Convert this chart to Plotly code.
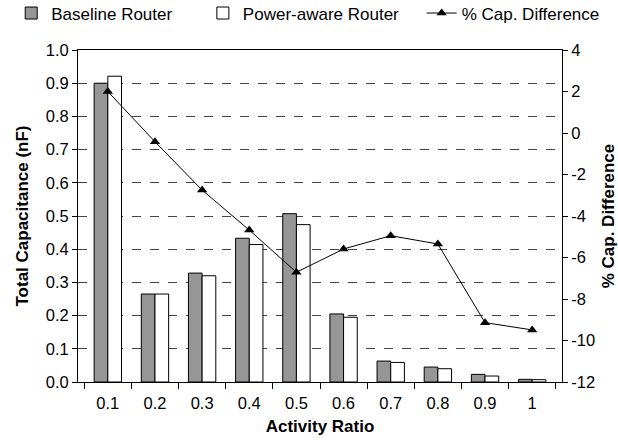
import plotly.graph_objects as go

categories = ["0.1", "0.2", "0.3", "0.4", "0.5", "0.6", "0.7", "0.8", "0.9", "1"]
baseline = [0.900, 0.265, 0.328, 0.433, 0.507, 0.205, 0.063, 0.045, 0.023, 0.008]
power_aware = [0.921, 0.265, 0.320, 0.414, 0.474, 0.195, 0.059, 0.040, 0.018, 0.007]
pct_diff = [2.0, -0.42, -2.75, -4.68, -6.71, -5.59, -4.95, -5.35, -9.14, -9.49]

left_ticks = [0.0, 0.1, 0.2, 0.3, 0.4, 0.5, 0.6, 0.7, 0.8, 0.9, 1.0]
left_labels = ["0.0", "0.1", "0.2", "0.3", "0.4", "0.5", "0.6", "0.7", "0.8", "0.9", "1.0"]
right_ticks = [-12, -10, -8, -6, -4, -2, 0, 2, 4]
right_labels = ["-12", "-10", "-8", "-6", "-4", "-2", "0", "2", "4"]

FONT = "Arial, Liberation Sans, sans-serif"

fig = go.Figure()
fig.add_trace(go.Bar(
    x=categories, y=baseline, name="Baseline Router", legend="legend",
    marker=dict(color="#969696", line=dict(color="black", width=1)),
))
fig.add_trace(go.Bar(
    x=categories, y=power_aware, name="Power-aware Router", legend="legend2",
    marker=dict(color="white", line=dict(color="black", width=1)),
))
fig.add_trace(go.Scatter(
    x=categories, y=pct_diff, name="% Cap. Difference", yaxis="y2", legend="legend3",
    mode="lines+markers",
    line=dict(color="black", width=1),
    marker=dict(symbol="triangle-up", size=9, color="black"),
))

leg_common = dict(
    orientation="h", xanchor="left", yanchor="middle", y=1.11,
    font=dict(size=17), itemwidth=30, bgcolor="rgba(0,0,0,0)",
)

fig.update_layout(
    width=618, height=440,
    margin=dict(l=78, r=56, t=50, b=58, autoexpand=False),
    paper_bgcolor="white", plot_bgcolor="white",
    font=dict(family=FONT, size=17, color="black"),
    barmode="group", bargap=0.42, bargroupgap=0,
    showlegend=True,
    legend=dict(x=-0.138, **leg_common),
    legend2=dict(x=0.258, **leg_common),
    legend3=dict(x=0.71, **leg_common),
    xaxis=dict(
        type="category", tickson="boundaries", ticks="outside", ticklen=6,
        tickcolor="black", showline=True, linecolor="black", linewidth=1,
        mirror=True, showgrid=False, tickfont=dict(size=16.5),
        ticklabelstandoff=6,
        title=dict(text="<b>Activity Ratio</b>", standoff=9, font=dict(size=17)),
    ),
    yaxis=dict(
        range=[0, 1.0], tickvals=left_ticks, ticktext=left_labels,
        ticks="outside", ticklen=5, tickcolor="black", tickfont=dict(size=16.5),
        showline=True, linecolor="black", linewidth=1,
        showgrid=True, gridcolor="#444444", griddash="dash", gridwidth=1,
        zeroline=False,
        title=dict(text="<b>Total Capacitance (nF)</b>", standoff=12, font=dict(size=17)),
    ),
    yaxis2=dict(
        overlaying="y", side="right", range=[-12, 4],
        tickvals=right_ticks, ticktext=right_labels,
        ticks="outside", ticklen=5, tickcolor="black", tickfont=dict(size=16.5),
        showline=True, linecolor="black", linewidth=1,
        showgrid=False, zeroline=False,
        title=dict(text="<b>% Cap. Difference</b>", standoff=8, font=dict(size=17)),
    ),
)

fig.write_html("out.html")
